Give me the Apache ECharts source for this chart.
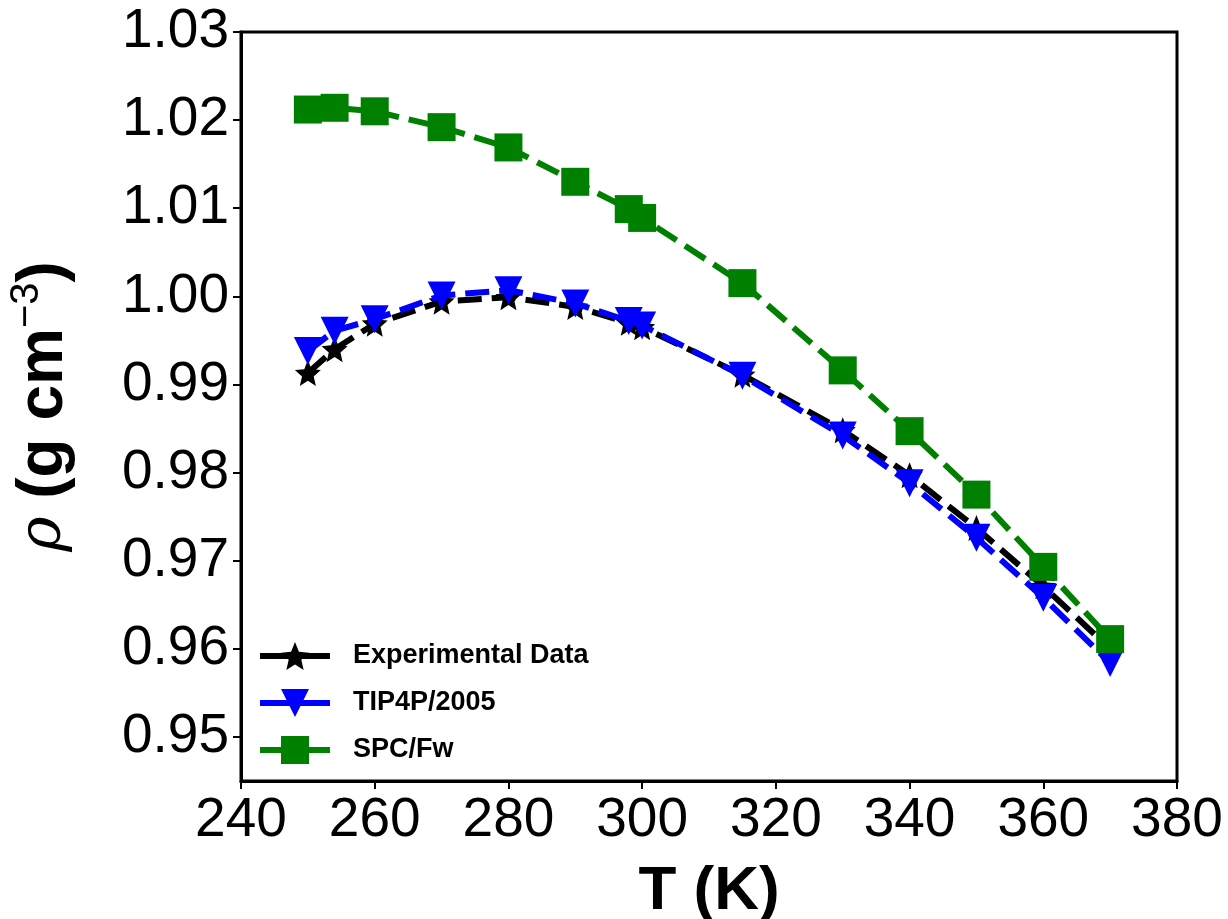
<!DOCTYPE html>
<html>
<head>
<meta charset="utf-8">
<script src="https://cdn.jsdelivr.net/npm/echarts@6/dist/echarts.min.js"></script>
<style>
  html, body { margin: 0; padding: 0; background: #fff; }
  #chart { width: 1228px; height: 919px; }
</style>
</head>
<body>
<div id="chart"></div>
<script>
// Temperatures (K) at which densities were computed / measured
const temperatures = [250, 254, 260, 270, 280, 290, 298, 300, 315, 330, 340, 350, 360, 370];

// Densities (g cm^-3)
const experimental = [0.9913, 0.9940, 0.9969, 0.9994, 0.9999, 0.9988, 0.9970, 0.9965, 0.9911, 0.9848, 0.9797, 0.9737, 0.9671, 0.9600];
const tip4p2005   = [0.9938, 0.9961, 0.9974, 1.0001, 1.0007, 0.9992, 0.9972, 0.9967, 0.9910, 0.9842, 0.9788, 0.9726, 0.9658, 0.9584];
const spcfw       = [1.0212, 1.0214, 1.0210, 1.0192, 1.0169, 1.0130, 1.0099, 1.0089, 1.0015, 0.9916, 0.9847, 0.9775, 0.9693, 0.9611];

const seriesNames = ['Experimental Data', 'TIP4P/2005', 'SPC/Fw'];

// Axis ticks
const xTicks = [240, 260, 280, 300, 320, 340, 360, 380];
const yTicks = [0.95, 0.96, 0.97, 0.98, 0.99, 1.00, 1.01, 1.02, 1.03];

// Five-pointed star marker
function starPath() {
  const pts = [];
  for (let i = 0; i < 10; i++) {
    const r = i % 2 === 0 ? 1 : 0.45;
    const a = -Math.PI / 2 + i * Math.PI / 5;
    pts.push((r * Math.cos(a)).toFixed(4) + ' ' + (r * Math.sin(a)).toFixed(4));
  }
  return 'path://M' + pts.join(' L') + ' Z';
}

const pair = (ys) => temperatures.map((t, i) => [t, ys[i]]);
const FONT = '"Liberation Sans", "DejaVu Sans", sans-serif';
const dash = [24, 10];

const chart = echarts.init(document.getElementById('chart'), null, { renderer: 'canvas' });

chart.setOption({
  animation: false,
  backgroundColor: '#ffffff',
  grid: {
    left: 241, right: 51, top: 32, bottom: 138,
    outerBoundsMode: 'none',
    containLabel: false,
    show: true, borderColor: '#000', borderWidth: 3, backgroundColor: 'transparent'
  },
  legend: {
    orient: 'vertical',
    left: 252, top: 637,
    itemWidth: 70, itemHeight: 35, itemGap: 19,
    data: seriesNames,
    lineStyle: { type: 'solid', width: 6 },
    textStyle: {
      fontFamily: FONT, fontWeight: 'bold', fontSize: 27, color: '#000',
      padding: [0, 0, 0, 18]
    }
  },
  xAxis: {
    type: 'value',
    min: 240, max: 380, interval: 20,
    name: 'T (K)',
    nameLocation: 'middle',
    nameGap: 80,
    nameTextStyle: { fontFamily: FONT, fontWeight: 'bold', fontSize: 62, color: '#000' },
    axisLine: { show: true, lineStyle: { color: '#000', width: 3 } },
    axisTick: { show: true, inside: false, length: 8, lineStyle: { color: '#000', width: 2 } },
    axisLabel: {
      fontFamily: FONT, fontSize: 55, color: '#000', margin: 12,
      customValues: xTicks
    },
    splitLine: { show: false }
  },
  yAxis: {
    type: 'value',
    min: 0.945, max: 1.03,
    name: '{rho|ρ}{b| (g cm}{sup|−3}{b|)}',
    nameLocation: 'middle',
    nameRotate: 90,
    nameGap: 160,
    nameTextStyle: {
      color: '#000',
      rich: {
        rho: { fontFamily: '"DejaVu Serif", serif', fontStyle: 'italic', fontSize: 60, color: '#000', lineHeight: 74 },
        b:   { fontFamily: FONT, fontWeight: 'bold', fontSize: 64, color: '#000', lineHeight: 74 },
        sup: { fontFamily: FONT, fontSize: 40, color: '#000', verticalAlign: 'top', lineHeight: 74, padding: [0, 0, 26, 0] }
      }
    },
    axisLine: { show: true, lineStyle: { color: '#000', width: 3 } },
    axisTick: { show: true, inside: false, length: 8, lineStyle: { color: '#000', width: 2 }, customValues: yTicks },
    axisLabel: {
      fontFamily: FONT, fontSize: 55, color: '#000', margin: 12,
      customValues: yTicks,
      formatter: (v) => v.toFixed(2)
    },
    splitLine: { show: false }
  },
  series: [
    {
      name: seriesNames[0], type: 'line', z: 2,
      data: pair(experimental),
      symbol: starPath(), symbolSize: 26,
      itemStyle: { color: '#000' },
      lineStyle: { color: '#000', width: 6, type: dash }
    },
    {
      name: seriesNames[1], type: 'line', z: 3,
      data: pair(tip4p2005),
      symbol: 'triangle', symbolRotate: 180, symbolSize: 28,
      itemStyle: { color: '#0000ff' },
      lineStyle: { color: '#0000ff', width: 6, type: dash }
    },
    {
      name: seriesNames[2], type: 'line', z: 4,
      data: pair(spcfw),
      symbol: 'rect', symbolSize: 28,
      itemStyle: { color: '#008000' },
      lineStyle: { color: '#008000', width: 6, type: dash }
    }
  ]
});
</script>
</body>
</html>
